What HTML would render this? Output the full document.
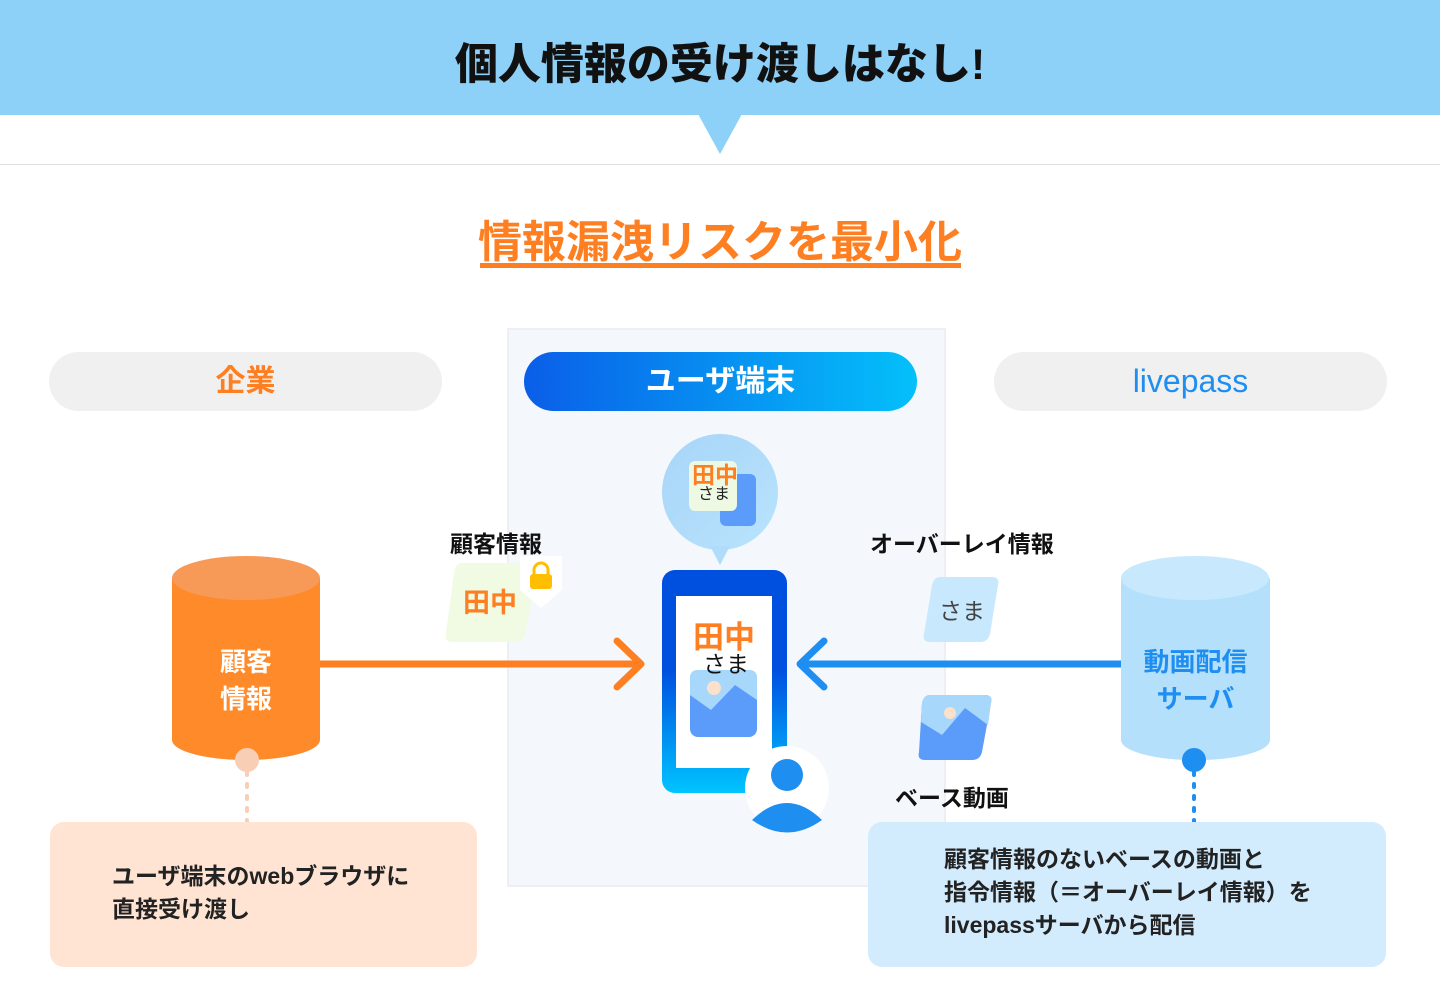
<!DOCTYPE html>
<html><head><meta charset="utf-8"><style>
*{margin:0;padding:0;box-sizing:border-box}
body{width:1440px;height:1002px;background:#fff;position:relative;overflow:hidden;font-family:"Liberation Sans","Noto Sans CJK JP",sans-serif}
.a{position:absolute}
.pill{position:absolute;top:352px;height:59px;width:393px;border-radius:30px;background:#f0f0f0;text-align:center;line-height:59px;font-size:30px;font-weight:bold}
.lbl{position:absolute;font-size:23px;font-weight:bold;color:#111;white-space:nowrap}
</style></head><body>
<div class="a" style="left:0;top:0;width:1440px;height:115px;background:#8dd1f8"></div>
<div class="a" style="left:0;top:164px;width:1440px;height:1px;background:#dde2e0"></div>
<svg class="a" style="left:0;top:0" width="1440" height="1002">
<polygon points="698,114 742,114 720,154" fill="#8dd1f8"/>
</svg>
<div class="a" style="left:0;top:30px;width:1440px;text-align:center;font-size:43px;font-weight:900;color:#111">個人情報の受け渡しはなし!</div>
<div class="a" style="left:0;top:206px;width:1440px;text-align:center;font-size:44px;font-weight:bold;color:#fe7f22">情報漏洩リスクを最小化</div>
<div class="a" style="left:480px;top:263px;width:481px;height:5px;background:#fe7f22"></div>

<div class="a" style="left:507px;top:328px;width:439px;height:559px;background:#f4f8fd;border:2px solid #eceff3"></div>

<div class="pill" style="left:49px;color:#fe7f22">企業</div>
<div class="pill" style="left:524px;color:#fff;background:linear-gradient(90deg,#0a5ee8,#04c0fa)">ユーザ端末</div>
<div class="pill" style="left:994px;color:#1f8ef1;font-weight:normal;font-size:32px">livepass</div>

<svg class="a" style="left:0;top:0" width="1440" height="1002">
<defs>
<linearGradient id="ph" x1="0" y1="0" x2="0" y2="1"><stop offset="0.45" stop-color="#0050e0"/><stop offset="1" stop-color="#00c4ff"/></linearGradient>
<linearGradient id="bub" x1="0" y1="0" x2="1" y2="1"><stop offset="0" stop-color="#a8d4f8"/><stop offset="1" stop-color="#b8e4fd"/></linearGradient>
</defs>
<path d="M172,578 L172,740 A74,20 0 0 0 320,740 L320,578 Z" fill="#ff8a2a"/>
<ellipse cx="246" cy="578" rx="74" ry="22" fill="#f79a58"/>
<line x1="247" y1="772" x2="247" y2="822" stroke="#f8cfb5" stroke-width="4" stroke-dasharray="3,9" stroke-linecap="round"/>
<circle cx="247" cy="760" r="12" fill="#f8cfb5"/>
<path d="M1121,578 L1121,740 A74,20 0 0 0 1270,740 L1270,578 Z" fill="#b4e0fb"/>
<ellipse cx="1195" cy="578" rx="74" ry="22" fill="#c8e9fd"/>
<line x1="1194" y1="772" x2="1194" y2="822" stroke="#1f8ef1" stroke-width="4" stroke-dasharray="3,9" stroke-linecap="round"/>
<circle cx="1194" cy="760" r="12" fill="#1f8ef1"/>
<line x1="320" y1="664" x2="640" y2="664" stroke="#fe7f22" stroke-width="7"/>
<polyline points="617,641 641,664 617,687" fill="none" stroke="#fe7f22" stroke-width="7" stroke-linecap="round" stroke-linejoin="round"/>
<line x1="1121" y1="664" x2="800" y2="664" stroke="#1f8ef1" stroke-width="7"/>
<polyline points="824,641 800,664 824,687" fill="none" stroke="#1f8ef1" stroke-width="7" stroke-linecap="round" stroke-linejoin="round"/>
<rect x="662" y="570" width="125" height="223" rx="13" fill="url(#ph)"/>
<rect x="676" y="596" width="96" height="172" fill="#fff"/>
<rect x="690" y="670" width="67" height="67" rx="8" fill="#5b9cfb"/>
<path d="M690,678 Q690,670 698,670 L749,670 Q757,670 757,678 L757,700 L735,685 L711,710 L690,695 Z" fill="#a7d7fb"/>
<circle cx="714" cy="688" r="7" fill="#fbe0cc"/>
<circle cx="787" cy="788" r="42" fill="#fff"/>
<circle cx="787" cy="775" r="16" fill="#1f8ef1"/>
<path d="M752,820 Q787,786 822,820 Q787,845 752,820 Z" fill="#1f8ef1"/>
<circle cx="720" cy="492" r="58" fill="url(#bub)"/>
<polygon points="710,546 730,546 720,565" fill="#b0dcfa"/>
<rect x="720" y="474" width="36" height="52" rx="6" fill="#5b9cfb"/>
<rect x="689" y="461" width="48" height="50" rx="6" fill="#eef9e4"/>
<path d="M462,563 L528,563 Q538,563 536,573 L526,632 Q524,642 514,642 L452,642 Q444,642 446,632 L454,573 Q456,563 462,563 Z" fill="#f1fbe4"/>
<path d="M520,556 L562,556 L562,590 L541,608 L520,590 Z" fill="#fff"/>
<rect x="530" y="574" width="22" height="15" rx="3" fill="#ffbf00"/>
<path d="M534,575 L534,570 A7,7 0 0 1 548,570 L548,575" fill="none" stroke="#ffbf00" stroke-width="3"/>
<path d="M940,577 L992,577 Q1000,577 998,585 L990,634 Q988,642 980,642 L930,642 Q922,642 924,634 L932,585 Q934,577 940,577 Z" fill="#c8e9fd"/>
<path d="M930,695 L985,695 Q993,695 991,703 L982,752 Q980,760 972,760 L925,760 Q917,760 919,752 L922,703 Q924,695 930,695 Z" fill="#5b9cfb"/>
<path d="M930,695 L985,695 Q993,695 991,703 L988,725 L965,708 L942,735 L921,722 L922,703 Q924,695 930,695 Z" fill="#a7d7fb"/>
<circle cx="950" cy="713" r="6" fill="#fbe0cc"/>
</svg>

<div class="a" style="left:692px;top:462px;font-size:23px;font-weight:bold;color:#fe7f22;line-height:26px">田中</div>
<div class="a" style="left:698px;top:486px;font-size:16px;color:#222;line-height:18px">さま</div>
<div class="a" style="left:693px;top:620px;font-size:31px;font-weight:bold;color:#fe7f22;line-height:36px">田中</div>
<div class="a" style="left:703px;top:651px;font-size:23px;color:#111;line-height:26px">さま</div>
<div class="a" style="left:463px;top:587px;font-size:27px;font-weight:bold;color:#fe7f22;line-height:32px">田中</div>
<div class="a" style="left:939px;top:597px;font-size:23px;color:#444;line-height:28px">さま</div>

<div class="a" style="left:172px;top:644px;width:148px;text-align:center;font-size:26px;font-weight:bold;color:#fff;line-height:37px">顧客<br>情報</div>
<div class="a" style="left:1121px;top:644px;width:149px;text-align:center;font-size:26px;font-weight:bold;color:#1f8ef1;line-height:37px">動画配信<br>サーバ</div>

<div class="lbl" style="left:450px;top:525px">顧客情報</div>
<div class="lbl" style="left:870px;top:525px">オーバーレイ情報</div>
<div class="lbl" style="left:895px;top:779px">ベース動画</div>

<div class="a" style="left:50px;top:822px;width:427px;height:145px;border-radius:14px;background:#ffe4d3"></div>
<div class="a" style="left:112px;top:860px;font-size:23px;font-weight:bold;color:#222;line-height:33px;white-space:nowrap">ユーザ端末のwebブラウザに<br>直接受け渡し</div>
<div class="a" style="left:868px;top:822px;width:518px;height:145px;border-radius:14px;background:#d3ecfd"></div>
<div class="a" style="left:944px;top:843px;font-size:23px;font-weight:bold;color:#222;line-height:33px;white-space:nowrap">顧客情報のないベースの動画と<br>指令情報（＝オーバーレイ情報）を<br>livepassサーバから配信</div>
</body></html>
